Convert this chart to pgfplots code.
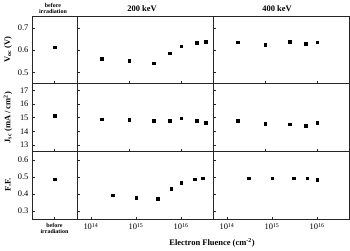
\documentclass[border=0pt]{standalone}
\usepackage{pgfplots}
\pgfplotsset{compat=1.18}
\usepackage{fontspec}
\setmainfont{Liberation Serif}
\pgfplotsset{
  panel/.style={
    scale only axis,
    axis line style={line width=0.6pt, black!85},
    tick align=inside,
    tick style={black!85, line width=0.4pt},
    major tick length=2.5bp,
    ticklabel style={font=\fontsize{8.5}{9}\selectfont},
    /pgf/number format/assume math mode=true,
    xtick pos=bottom, ytick pos=left,
    clip=false,
  },
  pts/.style={only marks, black, mark=square*, mark size=1.3pt, mark options={fill=black, draw=black}},
}
\begin{document}
\begin{tikzpicture}
\path (0,0) rectangle (350bp,248bp);
% ---------- top row: Voc ----------
\begin{axis}[panel, at={(32bp,166bp)}, anchor=south west, width=45bp, height=67bp,
  xmin=0, xmax=2, ymin=0.45, ymax=0.75, xtick={1}, xticklabels={},
  ytick={0.5,0.6,0.7}, yticklabels={0.5,0.6,0.7}]
\addplot[pts] coordinates {(1,0.613)};
\end{axis}
\begin{axis}[xmode=log, panel, xminorticks=false, at={(77bp,166bp)}, anchor=south west, width=136bp, height=67bp,
  xmin=1e14, xmax=4.12e16, ymin=0.45, ymax=0.75, xtick={1e15,1e16}, xticklabels={},
  ytick={0.5,0.6,0.7}, yticklabels={}]
\addplot[pts] coordinates {(3e14,0.563) (1e15,0.554) (3e15,0.541) (6e15,0.587) (1e16,0.617) (2e16,0.634) (3e16,0.638)};
\end{axis}
\begin{axis}[xmode=log, panel, xminorticks=false, at={(213bp,166bp)}, anchor=south west, width=136bp, height=67bp,
  xmin=1e14, xmax=4.12e16, ymin=0.45, ymax=0.75, xtick={1e15,1e16}, xticklabels={},
  ytick={0.5,0.6,0.7}, yticklabels={}]
\addplot[pts] coordinates {(3e14,0.635) (1e15,0.625) (3e15,0.638) (6e15,0.630) (1e16,0.635)};
\end{axis}
% ---------- middle row: Jsc ----------
\begin{axis}[panel, at={(32bp,98bp)}, anchor=south west, width=45bp, height=68bp,
  xmin=0, xmax=2, ymin=12.5, ymax=17.5, xtick={1}, xticklabels={},
  ytick={13,14,15,16,17}]
\addplot[pts] coordinates {(1,15.13)};
\end{axis}
\begin{axis}[xmode=log, panel, xminorticks=false, at={(77bp,98bp)}, anchor=south west, width=136bp, height=68bp,
  xmin=1e14, xmax=4.12e16, ymin=12.5, ymax=17.5, xtick={1e15,1e16}, xticklabels={},
  ytick={13,14,15,16,17}, yticklabels={}]
\addplot[pts] coordinates {(3e14,14.875) (1e15,14.85) (3e15,14.78) (6e15,14.80) (1e16,14.95) (2e16,14.78) (3e16,14.65)};
\end{axis}
\begin{axis}[xmode=log, panel, xminorticks=false, at={(213bp,98bp)}, anchor=south west, width=136bp, height=68bp,
  xmin=1e14, xmax=4.12e16, ymin=12.5, ymax=17.5, xtick={1e15,1e16}, xticklabels={},
  ytick={13,14,15,16,17}, yticklabels={}]
\addplot[pts] coordinates {(3e14,14.78) (1e15,14.54) (3e15,14.51) (6e15,14.39) (1e16,14.61)};
\end{axis}
% ---------- bottom row: FF ----------
\begin{axis}[panel, at={(32bp,30bp)}, anchor=south west, width=45bp, height=68bp,
  xmin=0, xmax=2, ymin=0.25, ymax=0.65, xtick={1},
  xticklabels={\textbf{before}\\\textbf{irradiation}},
  x tick label style={align=center, font=\fontsize{6}{6.5}\selectfont},
  ytick={0.3,0.4,0.5,0.6}, yticklabels={0.3,0.4,0.5,0.6}]
\addplot[pts] coordinates {(1,0.489)};
\end{axis}
\begin{axis}[xmode=log, panel, xminorticks=false, at={(77bp,30bp)}, anchor=south west, width=136bp, height=68bp,
  xmin=4.9e13, xmax=5.13e16, ymin=0.25, ymax=0.65, xtick={1e14,1e15,1e16},
  xticklabels={10\textsuperscript{14},10\textsuperscript{15},10\textsuperscript{16}},
  ytick={0.3,0.4,0.5,0.6}, yticklabels={}]
\addplot[pts] coordinates {(3e14,0.393) (1e15,0.381) (3e15,0.374) (6e15,0.434) (1e16,0.469) (2e16,0.489) (3e16,0.493)};
\end{axis}
\begin{axis}[xmode=log, panel, xminorticks=false, at={(213bp,30bp)}, anchor=south west, width=136bp, height=68bp,
  xmin=4.9e13, xmax=5.13e16, ymin=0.25, ymax=0.65, xtick={1e14,1e15,1e16},
  xticklabels={10\textsuperscript{14},10\textsuperscript{15},10\textsuperscript{16}},
  ytick={0.3,0.4,0.5,0.6}, yticklabels={}]
\addplot[pts] coordinates {(3e14,0.493) (1e15,0.495) (3e15,0.493) (6e15,0.493) (1e16,0.485)};
\end{axis}
% ---------- labels ----------
\node[font=\bfseries\fontsize{8.5}{9}\selectfont] at (142bp,241bp) {200 keV};
\node[font=\bfseries\fontsize{8.5}{9}\selectfont] at (277bp,241bp) {400 keV};
\node[font=\bfseries\fontsize{6}{6.5}\selectfont, align=center] at (53bp,241bp) {before\\irradiation};
\node[font=\bfseries\fontsize{8.5}{9}\selectfont, rotate=90] at (8bp,200bp) {V\textsubscript{oc} (V)};
\node[font=\bfseries\fontsize{8.5}{9}\selectfont, rotate=90] at (8bp,132bp) {J\textsubscript{sc} (mA / cm\textsuperscript{2})};
\node[font=\bfseries\fontsize{8.5}{9}\selectfont, rotate=90] at (8bp,65bp) {F.F.};
\node[font=\bfseries\fontsize{8.5}{9}\selectfont] at (212bp,7bp) {Electron Fluence (cm\textsuperscript{-2})};
\end{tikzpicture}
\end{document}
